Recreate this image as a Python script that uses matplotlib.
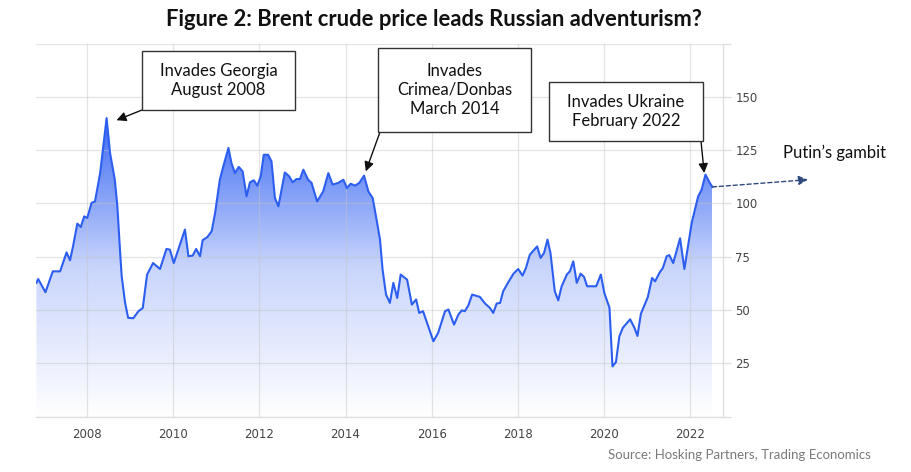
import matplotlib
matplotlib.use("Agg")
import matplotlib.pyplot as plt
import numpy as np
from matplotlib.colors import LinearSegmentedColormap
from matplotlib.patches import Rectangle

# ---------------- data ----------------
dates = [2006.82, 2006.86, 2007.03, 2007.20, 2007.37, 2007.52, 2007.60, 2007.67,
         2007.77, 2007.85, 2007.93, 2008.00, 2008.10, 2008.18, 2008.30, 2008.45,
         2008.53, 2008.64, 2008.70, 2008.76, 2008.80, 2008.88, 2008.95, 2009.07,
         2009.19, 2009.29, 2009.39, 2009.53, 2009.69, 2009.84, 2009.92, 2010.01,
         2010.27, 2010.35, 2010.45, 2010.53, 2010.62, 2010.68, 2010.79, 2010.89,
         2010.97, 2011.08, 2011.16, 2011.28, 2011.35, 2011.43, 2011.52, 2011.61,
         2011.70, 2011.78, 2011.87, 2011.95, 2012.03, 2012.10, 2012.20, 2012.28,
         2012.36, 2012.44, 2012.59, 2012.69, 2012.77, 2012.86, 2012.94, 2013.02,
         2013.13, 2013.21, 2013.34, 2013.48, 2013.60, 2013.70, 2013.83, 2013.95,
         2014.03, 2014.12, 2014.22, 2014.32, 2014.43, 2014.53, 2014.63, 2014.72,
         2014.80, 2014.86, 2014.94, 2015.03, 2015.11, 2015.20, 2015.28, 2015.43,
         2015.54, 2015.64, 2015.71, 2015.80, 2015.92, 2016.04, 2016.15, 2016.31,
         2016.39, 2016.52, 2016.62, 2016.70, 2016.77, 2016.85, 2016.94, 2017.12,
         2017.24, 2017.35, 2017.43, 2017.51, 2017.59, 2017.66, 2017.78, 2017.90,
         2018.01, 2018.11, 2018.19, 2018.28, 2018.45, 2018.53, 2018.61, 2018.69,
         2018.76, 2018.86, 2018.94, 2019.02, 2019.14, 2019.21, 2019.29, 2019.37,
         2019.46, 2019.54, 2019.61, 2019.70, 2019.82, 2019.93, 2020.01, 2020.13,
         2020.20, 2020.28, 2020.36, 2020.44, 2020.61, 2020.71, 2020.78, 2020.86,
         2021.02, 2021.12, 2021.19, 2021.29, 2021.37, 2021.46, 2021.52, 2021.61,
         2021.77, 2021.87, 2022.04, 2022.19, 2022.27, 2022.36, 2022.46, 2022.52]

brent = [62.7, 64.5, 58.3, 68.1, 68.1, 77.0, 73.3, 79.8,
         90.5, 88.9, 93.9, 93.1, 100.2, 100.9, 114.2, 140.0,
         123.6, 111.1, 98.6, 78.3, 65.8, 53.3, 46.3, 46.1,
         49.4, 50.9, 66.6, 72.0, 69.2, 78.6, 78.3, 72.0,
         87.7, 75.2, 75.5, 78.6, 75.2, 82.7, 84.2, 86.9,
         95.5, 111.1, 117.3, 126.0, 118.9, 114.2, 117.1, 115.0,
         103.3, 109.9, 110.8, 108.3, 112.7, 122.8, 122.8, 119.7,
         102.5, 98.6, 114.5, 112.7, 109.9, 111.4, 111.4, 115.8,
         111.1, 109.6, 100.9, 105.6, 114.2, 108.8, 109.6, 111.1,
         107.2, 109.2, 108.3, 109.6, 113.0, 105.6, 102.5, 92.4,
         83.0, 68.9, 57.2, 53.3, 62.7, 55.6, 66.6, 64.2,
         52.5, 54.9, 48.6, 49.4, 42.3, 35.3, 39.2, 49.4,
         50.2, 43.1, 47.8, 49.8, 49.4, 52.0, 57.2, 56.1,
         53.0, 51.0, 48.6, 53.0, 53.3, 58.7, 63.0, 67.0,
         69.2, 66.1, 69.7, 75.9, 79.8, 74.4, 76.7, 83.0,
         76.7, 58.7, 54.5, 61.1, 66.6, 68.1, 72.8, 62.7,
         67.0, 65.5, 61.1, 61.1, 61.1, 66.6, 58.0, 51.0,
         23.5, 25.5, 37.6, 41.6, 45.6, 41.6, 37.8, 48.2,
         56.0, 65.0, 63.4, 67.4, 69.7, 75.2, 75.7, 72.0,
         83.6, 69.2, 90.8, 103.3, 106.4, 113.5, 109.6, 107.7]

x_ticks = [2008, 2010, 2012, 2014, 2016, 2018, 2020, 2022]
x_tick_labels = ["2008", "2010", "2012", "2014", "2016", "2018", "2020", "2022"]
y_ticks = [0, 25, 50, 75, 100, 125, 150, 175]
y_tick_labels = ["", "25", "50", "75", "100", "125", "150", ""]

title = "Figure 2: Brent crude price leads Russian adventurism?"
source = "Source: Hosking Partners, Trading Economics"
events = ["Invades Georgia\nAugust 2008",
          "Invades\nCrimea/Donbas\nMarch 2014",
          "Invades Ukraine\nFebruary 2022"]
event_points = [(2008.68, 139.0), (2014.47, 115.0), (2022.33, 114.2)]
gambit_label = "Putin\u2019s gambit"

# ---------------- figure ----------------
W, H = 912, 472
fig = plt.figure(figsize=(W / 100, H / 100), dpi=100)
fig.patch.set_facecolor("white")


def fx(px):
    return px / W


def fy(py):
    return 1 - py / H


ax = fig.add_axes([fx(36), fy(416.5), fx(722.7) - fx(36), fy(43.5) - fy(416.5)])
ax.set_xlim(2006.81, 2022.76)
ax.set_ylim(0, 175)

x = np.array(dates)
y = np.array(brent)

line_color = "#2c5ef0"
# gradient fill clipped to area under curve
poly = ax.fill_between(x, y, 0, color="none", lw=0)
cmap = LinearSegmentedColormap.from_list("g", ["#ffffff", "#c9d5fc", "#3e6bf3"])
grad = np.linspace(0, 1, 256).reshape(-1, 1)
img = ax.imshow(grad, extent=[x.min(), x.max(), 0, 140], origin="lower",
                aspect="auto", cmap=cmap, zorder=1, interpolation="bicubic")
path = poly.get_paths()[0]
img.set_clip_path(path, transform=ax.transData)
ax.plot(x, y, color=line_color, lw=1.5, zorder=3, solid_joinstyle="round")

# axes styling
ax.set_xticks(x_ticks)
ax.set_xticklabels(x_tick_labels)
ax.set_yticks(y_ticks)
ax.set_yticklabels(y_tick_labels)
ax.yaxis.tick_right()
ax.grid(True, color="#c4c4c4", alpha=0.45, lw=0.9)
ax.set_axisbelow(False)
for s in ["top", "left"]:
    ax.spines[s].set_visible(False)
for s in ["right", "bottom"]:
    ax.spines[s].set_color("#dddddd")
    ax.spines[s].set_linewidth(0.9)
ax.tick_params(axis="x", length=0, pad=8, labelsize=8.5, labelcolor="#444444")
ax.tick_params(axis="y", length=6, width=0.9, color="#dddddd", pad=3,
               labelsize=8.5, labelcolor="#444444")
for lab in ax.get_xticklabels() + ax.get_yticklabels():
    lab.set_family("DejaVu Sans")

# title and source
fig.text(fx(434), fy(19), title, ha="center", va="center", fontsize=15.8,
         fontweight="bold", family="Lato", color="#111111")
fig.text(fx(871), fy(455), source, ha="right", va="center", fontsize=9.5,
         family="Lato", color="#7a7a7a")

# annotation boxes (pixel positions: left, top, right, bottom)
boxes = [(142, 51, 295, 110), (378, 48, 531, 132), (549, 82, 703, 141)]
starts = [(142, 110), (380, 132), (701, 141)]
for text, (l, t, r, b), pt, st in zip(events, boxes, event_points, starts):
    fig.add_artist(Rectangle((fx(l), fy(b)), fx(r) - fx(l), fy(t) - fy(b),
                             transform=fig.transFigure, facecolor="white",
                             edgecolor="#333333", lw=1.0, zorder=5))
    fig.text(fx((l + r) / 2), fy((t + b) / 2), text, ha="center", va="center",
             fontsize=12, family="Lato", color="#111111", linespacing=1.25,
             zorder=6)
    ax.annotate("", xy=pt, xycoords="data",
                xytext=(fx(st[0]), fy(st[1])), textcoords="figure fraction",
                arrowprops=dict(arrowstyle="-|>", color="#111111", lw=1.0,
                                mutation_scale=14, shrinkA=0, shrinkB=0),
                annotation_clip=False, zorder=6)

# Putin's gambit
ax.annotate("", xy=(2024.74, 111.1), xycoords="data",
            xytext=(x[-1], y[-1]), textcoords="data",
            arrowprops=dict(arrowstyle="-|>", color="#2f4a7c", lw=1.0,
                            linestyle=(0, (3, 2)), mutation_scale=14,
                            shrinkA=0, shrinkB=0),
            annotation_clip=False, zorder=6)
fig.text(fx(783), fy(153), gambit_label, ha="left", va="center", fontsize=12,
         family="Lato", color="#111111")

fig.savefig("out.png", dpi=100)
